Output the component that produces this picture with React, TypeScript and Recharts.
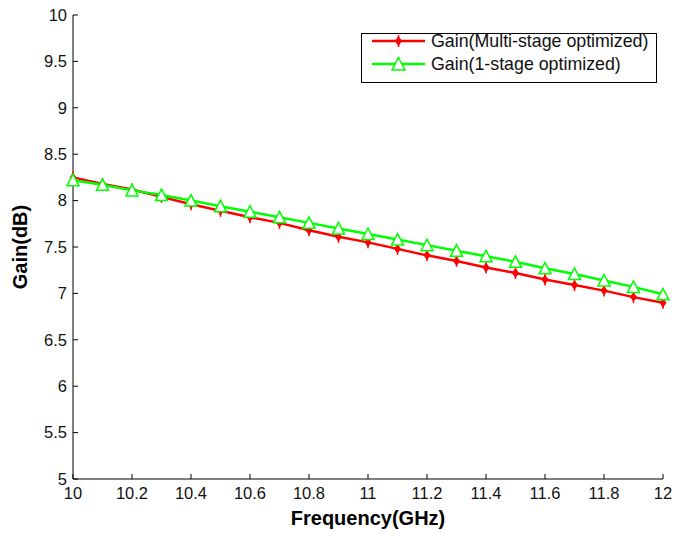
import React from "react";
import {
  LineChart,
  Line,
  XAxis,
  YAxis,
  Legend,
} from "recharts";

const freqs = [10, 10.1, 10.2, 10.3, 10.4, 10.5, 10.6, 10.7, 10.8, 10.9, 11, 11.1, 11.2, 11.3, 11.4, 11.5, 11.6, 11.7, 11.8, 11.9, 12];
const gainMulti = [8.25, 8.18, 8.12, 8.04, 7.96, 7.89, 7.82, 7.76, 7.68, 7.61, 7.55, 7.48, 7.41, 7.35, 7.28, 7.22, 7.15, 7.09, 7.03, 6.96, 6.9];
const gainOne = [8.22, 8.17, 8.11, 8.06, 8.0, 7.94, 7.88, 7.82, 7.76, 7.7, 7.64, 7.58, 7.52, 7.46, 7.4, 7.34, 7.27, 7.21, 7.14, 7.07, 6.99];
const xTicks = [10, 10.2, 10.4, 10.6, 10.8, 11, 11.2, 11.4, 11.6, 11.8, 12];
const yTicks = [5, 5.5, 6, 6.5, 7, 7.5, 8, 8.5, 9, 9.5, 10];
const seriesNames = ["Gain(Multi-stage optimized)", "Gain(1-stage optimized)"];
const seriesColors = ["#ff0000", "#00ff00"];

const data = freqs.map((f, i) => ({ f, multi: gainMulti[i], one: gainOne[i] }));

const FONT = '"Liberation Sans", Arial, sans-serif';
const tickStyle = { fontSize: 16.5, fill: "#111", fontFamily: FONT };

// red marker: small filled diamond with a vertical spike
const StarDot = (p: any) => {
  const { cx, cy } = p;
  if (cx == null || cy == null) return null;
  return (
    <g>
      <polygon
        points={`${cx},${cy - 5} ${cx + 3.5},${cy} ${cx},${cy + 5} ${cx - 3.5},${cy}`}
        fill="#ff0000"
      />
      <line x1={cx} y1={cy - 6} x2={cx} y2={cy + 6} stroke="#ff0000" strokeWidth={1.5} />
    </g>
  );
};

const TriDot = (p: any) => {
  const { cx, cy, size = 6 } = p;
  if (cx == null || cy == null) return null;
  return (
    <polygon
      points={`${cx},${cy - size} ${cx + size},${cy + size - 0.5} ${cx - size},${cy + size - 0.5}`}
      fill="#fff"
      stroke="#00ff00"
      strokeWidth={1.5}
    />
  );
};

const PAD = 6;

const LegendBox = () => (
  <svg width={296} height={50 + PAD * 2} style={{ display: "block", overflow: "visible" }}>
    <rect x={0.5} y={PAD + 0.5} width={295} height={49} fill="#fff" stroke="#000" />
    {seriesNames.map((name, i) => {
      const y = PAD + 8 + i * 23;
      return (
        <g key={name}>
          <line x1={11} y1={y} x2={64} y2={y} stroke={seriesColors[i]} strokeWidth={2.5} />
          {i === 0 ? <StarDot cx={37.5} cy={y} /> : <TriDot cx={37.5} cy={y} size={6.5} />}
          <text x={70} y={y + 6} fontSize={17.8} fontFamily={FONT} fill="#111">
            {name}
          </text>
        </g>
      );
    })}
  </svg>
);

const YLabel = (props: any) => {
  const vb = props.viewBox || {};
  const cx = 20;
  const cy = vb.y + vb.height / 2;
  return (
    <text
      x={cx}
      y={cy}
      transform={`rotate(-90 ${cx} ${cy})`}
      textAnchor="middle"
      dominantBaseline="central"
      fontSize={20}
      fontWeight="bold"
      fontFamily={FONT}
      fill="#000"
    >
      Gain(dB)
    </text>
  );
};

export default function App() {
  return (
    <div style={{ position: "absolute", left: 0, top: 0, background: "#fff" }}>
      <LineChart
        width={674}
        height={535}
        data={data}
        margin={{ top: 15, right: 11, left: 13, bottom: 0 }}
      >
        <XAxis
          dataKey="f"
          type="number"
          domain={[10, 12]}
          ticks={xTicks}
          interval={0}
          height={56}
          tickSize={-5}
          tickMargin={13}
          tick={tickStyle}
          stroke="#000"
          tickLine={{ stroke: "#000" }}
          label={{
            value: "Frequency(GHz)",
            position: "insideBottom",
            offset: 10,
            style: { fontSize: 20, fontWeight: "bold", fontFamily: FONT, fill: "#000" },
          }}
        />
        <XAxis
          xAxisId="top"
          orientation="top"
          dataKey="f"
          type="number"
          domain={[10, 12]}
          ticks={xTicks}
          interval={0}
          height={0}
          tickSize={-5}
          tickFormatter={() => ""}
          stroke="#000"
        />
        <YAxis
          type="number"
          domain={[5, 10]}
          ticks={yTicks}
          interval={0}
          width={60}
          tickSize={-5}
          tickMargin={11}
          tick={tickStyle}
          stroke="#000"
          label={<YLabel />}
        />
        <YAxis
          yAxisId="right"
          orientation="right"
          type="number"
          domain={[5, 10]}
          ticks={yTicks}
          interval={0}
          width={0}
          tickSize={-5}
          tickFormatter={() => ""}
          stroke="#000"
        />
        <Legend
          layout="horizontal"
          verticalAlign="middle"
          align="center"
          content={() => <LegendBox />}
          wrapperStyle={{ position: "absolute", left: 361, top: 33 - PAD, width: 296, height: 50 + PAD * 2 }}
        />
        <Line
          dataKey="multi"
          name={seriesNames[0]}
          stroke={seriesColors[0]}
          strokeWidth={2.5}
          dot={<StarDot />}
          activeDot={false}
          isAnimationActive={false}
        />
        <Line
          dataKey="one"
          name={seriesNames[1]}
          stroke={seriesColors[1]}
          strokeWidth={2.5}
          dot={<TriDot />}
          activeDot={false}
          isAnimationActive={false}
        />
      </LineChart>
    </div>
  );
}
